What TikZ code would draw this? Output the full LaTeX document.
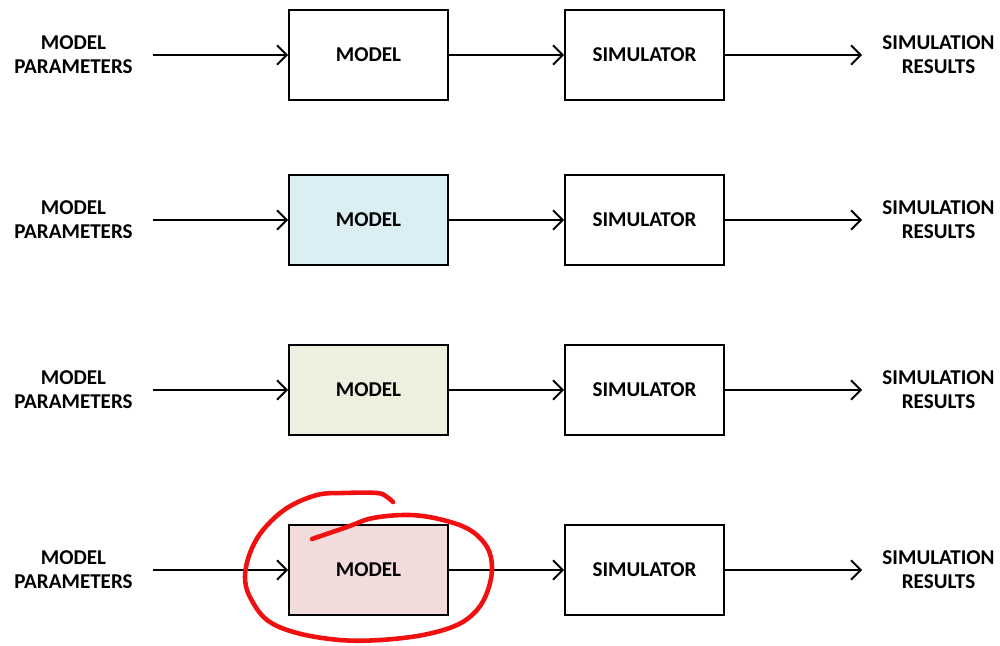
\documentclass[tikz,border=0pt]{standalone}
\usepackage{fontspec}
\setmainfont{Carlito}
\usetikzlibrary{arrows.meta}

\definecolor{modelblue}{HTML}{DAEEF3}
\definecolor{modelgreen}{HTML}{EBF1DE}
\definecolor{modelred}{HTML}{F2DCDB}
\definecolor{penred}{HTML}{F01010}

\tikzset{
  block/.style={draw, line width=1.1pt, minimum width=3.18cm, minimum height=1.8cm,
    font=\fontsize{12}{13.7}\selectfont\bfseries},
  lbl/.style={align=center, inner xsep=0.4cm,
    font=\fontsize{12}{13.7}\selectfont\bfseries},
  conn/.style={line width=1.1pt, -{Straight Barb[length=5.5pt,width=11pt,line width=1.1pt]}},
}

\begin{document}
\begin{tikzpicture}
  \useasboundingbox (0,0) rectangle (20,-12.9);

  \def\xPar{1.47}
  \def\xMod{7.37}
  \def\xSim{12.89}
  \def\xRes{18.77}

  % first row, plain model
  \node[lbl] (par1) at (\xPar,-1.1) {MODEL\\PARAMETERS};
  \node[block] (model1) at (\xMod,-1.1) {MODEL};
  \node[block] (sim1) at (\xSim,-1.1) {SIMULATOR};
  \node[lbl] (res1) at (\xRes,-1.1) {SIMULATION\\RESULTS};
  \draw[conn] (par1) -- (model1);
  \draw[conn] (model1) -- (sim1);
  \draw[conn] (sim1) -- (res1);

  % second row, blue model
  \node[lbl] (par2) at (\xPar,-4.4) {MODEL\\PARAMETERS};
  \node[block, fill=modelblue] (model2) at (\xMod,-4.4) {MODEL};
  \node[block] (sim2) at (\xSim,-4.4) {SIMULATOR};
  \node[lbl] (res2) at (\xRes,-4.4) {SIMULATION\\RESULTS};
  \draw[conn] (par2) -- (model2);
  \draw[conn] (model2) -- (sim2);
  \draw[conn] (sim2) -- (res2);

  % third row, green model
  \node[lbl] (par3) at (\xPar,-7.8) {MODEL\\PARAMETERS};
  \node[block, fill=modelgreen] (model3) at (\xMod,-7.8) {MODEL};
  \node[block] (sim3) at (\xSim,-7.8) {SIMULATOR};
  \node[lbl] (res3) at (\xRes,-7.8) {SIMULATION\\RESULTS};
  \draw[conn] (par3) -- (model3);
  \draw[conn] (model3) -- (sim3);
  \draw[conn] (sim3) -- (res3);

  % fourth row, red model
  \node[lbl] (par4) at (\xPar,-11.4) {MODEL\\PARAMETERS};
  \node[block, fill=modelred] (model4) at (\xMod,-11.4) {MODEL};
  \node[block] (sim4) at (\xSim,-11.4) {SIMULATOR};
  \node[lbl] (res4) at (\xRes,-11.4) {SIMULATION\\RESULTS};
  \draw[conn] (par4) -- (model4);
  \draw[conn] (model4) -- (sim4);
  \draw[conn] (sim4) -- (res4);

  % hand drawn ring round the last model
  \draw[penred, line width=2.6pt, line cap=round, line join=round]
    plot[smooth, tension=0.6] coordinates {
      (6.24,-10.78) (6.94,-10.54) (7.46,-10.36) (8.20,-10.30) (8.86,-10.40)
      (9.40,-10.60) (9.74,-10.94) (9.84,-11.34) (9.76,-11.80) (9.54,-12.20)
      (9.14,-12.50) (8.46,-12.70) (7.60,-12.80) (6.80,-12.80) (5.94,-12.66)
      (5.34,-12.40) (5.00,-11.94) (4.90,-11.54) (5.00,-11.06) (5.26,-10.60)
      (5.74,-10.16) (6.34,-9.90) (6.86,-9.86) (7.54,-9.86) (7.74,-9.94)
      (7.86,-10.04)};
\end{tikzpicture}
\end{document}
